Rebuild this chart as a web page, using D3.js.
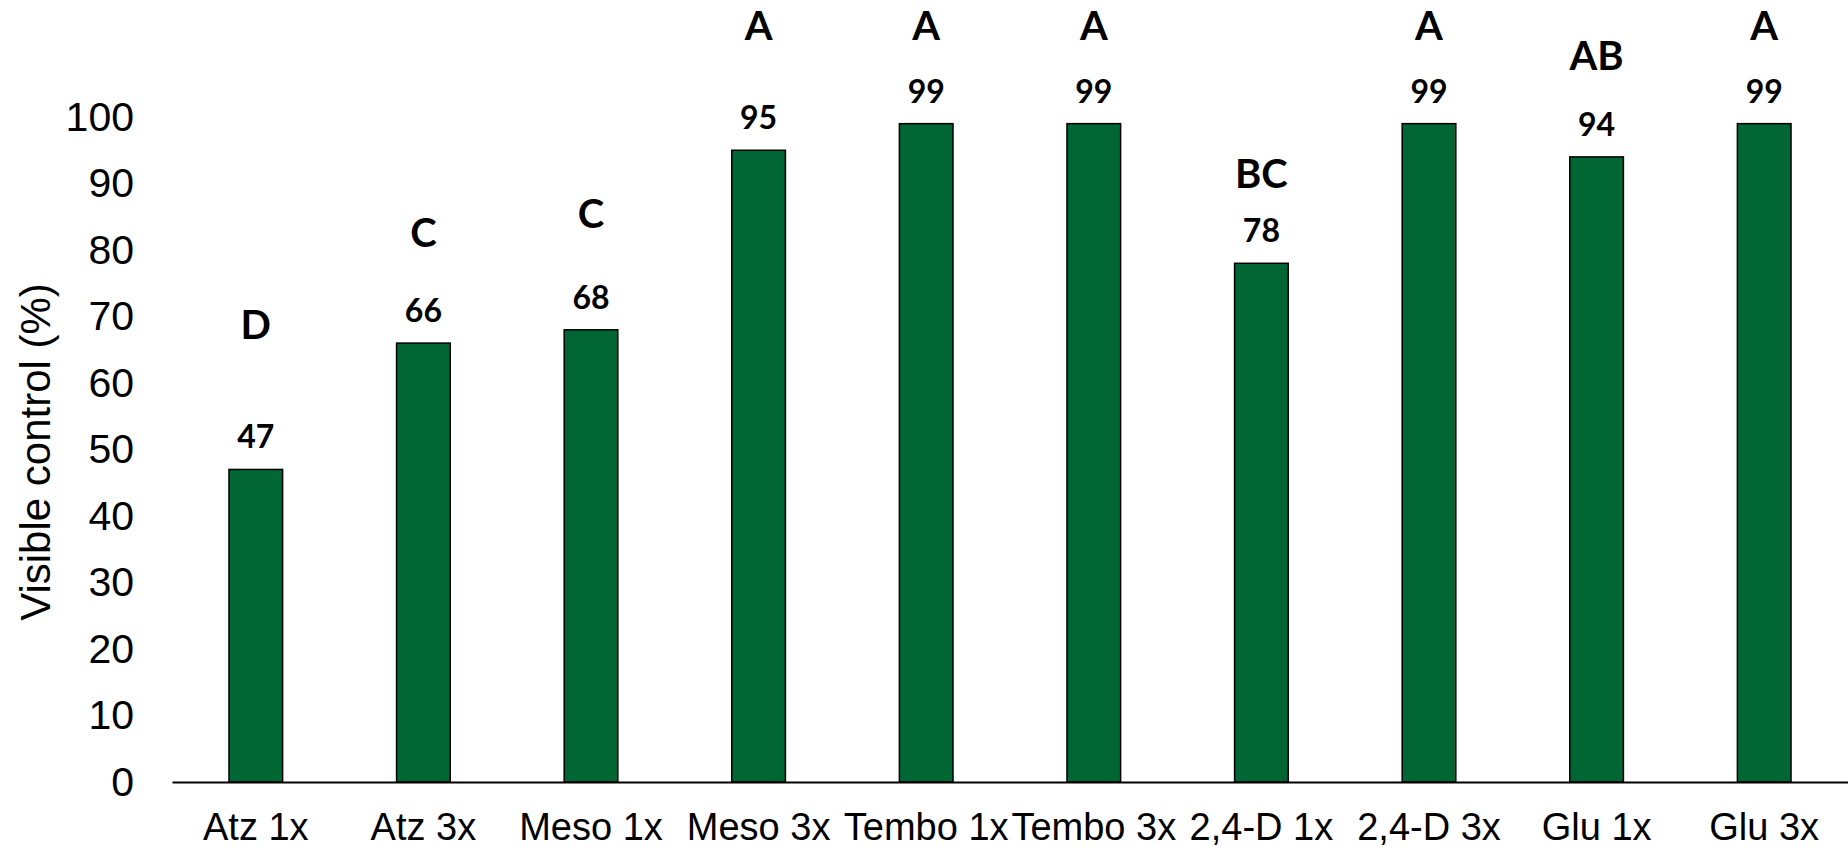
<!DOCTYPE html>
<html>
<head>
<meta charset="utf-8">
<script src="https://cdn.jsdelivr.net/npm/d3@7"></script>
<style>
  body { margin: 0; background: #fff; }
</style>
</head>
<body>
<div id="chart"></div>
<script>
// treatments and visible control (%)
const treatments = ["Atz 1x", "Atz 3x", "Meso 1x", "Meso 3x", "Tembo 1x", "Tembo 3x", "2,4-D 1x", "2,4-D 3x", "Glu 1x", "Glu 3x"];
const control = [47, 66, 68, 95, 99, 99, 78, 99, 94, 99];
// mean separation letters and the level (in %) where each one sits
const letters = ["D", "C", "C", "A", "A", "A", "BC", "A", "AB", "A"];
const letterLevel = [66.6, 80.5, 83.3, 111.6, 111.6, 111.6, 89.3, 111.6, 107.1, 111.6];
const yTicks = [0, 10, 20, 30, 40, 50, 60, 70, 80, 90, 100];

const w = 1848;
const h = 847;
const margin = {top: 117, right: 0, bottom: 65, left: 172};
const axisFont = "Arial, 'Liberation Sans', sans-serif";
const labelFont = "Lato, 'Open Sans', sans-serif";

const svg = d3.select("#chart")
    .append("svg")
    .attr("width", w)
    .attr("height", h);

//Create scale functions
const xScale = d3.scaleBand()
    .domain(treatments)
    .range([margin.left, w - margin.right])
    .paddingInner(0.68)
    .paddingOuter(0.34);
const yScale = d3.scaleLinear()
    .domain([0, 100])
    .range([h - margin.bottom, margin.top]);

// y axis: labels only, no line
const yAxis = svg.append("g")
    .attr("transform", "translate(" + 134 + ",0)")
    .call(d3.axisLeft(yScale).tickValues(yTicks).tickSize(0).tickPadding(0));
yAxis.attr("font-family", null).attr("font-size", null);
yAxis.select(".domain").remove();
yAxis.selectAll("text")
    .style("font-family", axisFont)
    .style("font-size", "41px")
    .attr("fill", "#000");

svg.append("text")
    .attr("transform", "translate(50," + 452 + ") rotate(-90)")
    .attr("text-anchor", "middle")
    .style("font-family", axisFont)
    .style("font-size", "42px")
    .attr("fill", "#000")
    .text("Visible control (%)");

// bars
svg.selectAll("rect.bar")
   .data(control)
   .enter()
   .append("rect")
   .attr("class", "bar")
   .attr("x", (d, i) => xScale(treatments[i]))
   .attr("y", d => yScale(d))
   .attr("width", xScale.bandwidth())
   .attr("height", d => yScale(0) - yScale(d))
   .attr("fill", "#006633")
   .attr("stroke", "#000")
   .attr("stroke-width", 1.5);

// x axis
const xAxis = svg.append("g")
    .attr("transform", "translate(0," + yScale(0) + ")")
    .call(d3.axisBottom(xScale).tickSize(0).tickPadding(0).tickSizeOuter(0));
xAxis.attr("font-family", null).attr("font-size", null);
xAxis.select(".domain")
    .attr("stroke", "#000")
    .attr("stroke-width", 2.2);
xAxis.selectAll("text")
    .attr("dy", null)
    .attr("y", 58)
    .style("font-family", axisFont)
    .style("font-size", "38px")
    .attr("fill", "#000");

// value labels
svg.selectAll("text.val")
   .data(control)
   .enter()
   .append("text")
   .attr("class", "val")
   .text(d => d)
   .attr("x", (d, i) => xScale(treatments[i]) + xScale.bandwidth() / 2)
   .attr("y", d => yScale(d) - 21)
   .attr("text-anchor", "middle")
   .style("font-family", labelFont)
   .style("font-weight", "bold")
   .style("font-size", "32px")
   .attr("fill", "#000");

// letters
svg.selectAll("text.letter")
   .data(letters)
   .enter()
   .append("text")
   .attr("class", "letter")
   .text(d => d)
   .attr("x", (d, i) => xScale(treatments[i]) + xScale.bandwidth() / 2)
   .attr("y", (d, i) => yScale(letterLevel[i]))
   .attr("text-anchor", "middle")
   .style("font-family", labelFont)
   .style("font-weight", "bold")
   .style("font-size", "40px")
   .attr("fill", "#000");
</script>
</body>
</html>
